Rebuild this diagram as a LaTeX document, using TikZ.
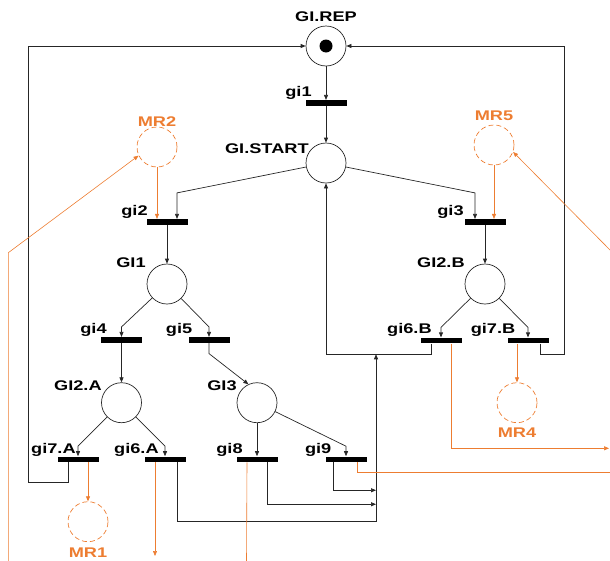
\documentclass[tikz,border=0pt]{standalone}
\usepackage{fontspec}
\setmainfont{Liberation Sans}[FakeStretch=1.3]
\usetikzlibrary{positioning,calc,arrows.meta}
\definecolor{mrorange}{RGB}{237,125,49}

\begin{document}
\begin{tikzpicture}[x=1pt,y=-1pt,>={Triangle[length=5pt,width=4pt]},line width=0.7pt]
\tikzset{
  place/.style={circle, draw=black!85, minimum size=40pt, inner sep=0pt},
  mrplace/.style={circle, draw=mrorange, dash pattern=on 5pt off 3pt, minimum size=40pt, inner sep=0pt},
  bar/.style={rectangle, fill=black, minimum width=41pt, minimum height=5.5pt, inner sep=0pt},
  lbl/.style={font=\bfseries\fontsize{14}{16}\selectfont, inner sep=0pt, anchor=base east},
  mrlbl/.style={lbl, text=mrorange, anchor=base},
  arc/.style={->, draw=black!85},
  oarc/.style={->, draw=mrorange, line width=0.6pt}
}
\useasboundingbox (0,0) rectangle (610,560);

% Places
\node[place] (rep) at (326,46) {};
\fill (rep) circle (6.5pt);
\node[place] (start) at (326,163) {};
\node[place] (g1) at (167,284) {};
\node[place] (g2b) at (485,284) {};
\node[place] (g2a) at (121.5,402.7) {};
\node[place] (g3) at (257,402.7) {};
\node[mrplace] (mr2) at (157,147) {};
\node[mrplace] (mr5) at (494,145) {};
\node[mrplace] (mr4) at (517,402.7) {};
\node[mrplace] (mr1) at (88,521.7) {};

% Transitions
\node[bar] (gi1) at (326,103) {};
\node[bar] (gi2) at (167,222) {};
\node[bar] (gi3) at (485,222) {};
\node[bar] (gi4) at (121.5,340) {};
\node[bar] (gi5) at (209,340) {};
\node[bar] (gi6b) at (441,340.5) {};
\node[bar] (gi7b) at (528,340.5) {};
\node[bar] (gi7a) at (78,459.3) {};
\node[bar] (gi6a) at (165,459.3) {};
\node[bar] (gi8) at (257,459.3) {};
\node[bar] (gi9) at (346,459.3) {};

% Labels
\node[lbl, anchor=base] (rep-l) at (326,21.7) {GI.REP};
\node[lbl] (start-l) at (309,153) {GI.START};
\node[lbl] (g1-l) at (146,267) {GI1};
\node[lbl] (g2b-l) at (465,267) {GI2.B};
\node[lbl] (g2a-l) at (102,390.5) {GI2.A};
\node[lbl] (g3-l) at (237,390.5) {GI3};
\node[lbl] (gi1-l) at (312,96.5) {gi1};
\node[lbl] (gi2-l) at (148,215.5) {gi2};
\node[lbl] (gi3-l) at (464,215.5) {gi3};
\node[lbl] (gi4-l) at (107,333.5) {gi4};
\node[lbl] (gi5-l) at (192.6,333.5) {gi5};
\node[lbl] (gi6b-l) at (432,333.5) {gi6.B};
\node[lbl] (gi7b-l) at (515.6,333.5) {gi7.B};
\node[lbl] (gi7a-l) at (76,453) {gi7.A};
\node[lbl] (gi6a-l) at (159,453) {gi6.A};
\node[lbl] (gi8-l) at (243,453) {gi8};
\node[lbl] (gi9-l) at (331.7,453) {gi9};
\node[mrlbl] (mr2-l) at (157,126.5) {MR2};
\node[mrlbl] (mr5-l) at (494,120) {MR5};
\node[mrlbl] (mr4-l) at (517,437) {MR4};
\node[mrlbl] (mr1-l) at (88,557.5) {MR1};

% Free ends
\coordinate (join) at (376,354.25);
\coordinate (out6a) at (155,556);
\coordinate (out8) at (246.5,562);
\coordinate (out6b) at (609,448.3);
\coordinate (out9) at (612,472.5);
\coordinate (in2) at (8.3,562);
\coordinate (in5) at (612,252);

% Arcs
\draw[arc] (rep) -- (gi1.north);
\draw[arc] (gi1) -- (start);
\draw[arc] (start) -- ([xshift=10pt,yshift=26pt]gi2.north) -- ([xshift=10pt]gi2.north);
\draw[arc] (start) -- ([xshift=-10pt,yshift=26pt]gi3.north) -- ([xshift=-10pt]gi3.north);
\draw[arc] (gi2) -- (g1);
\draw[arc] (gi3) -- (g2b);
\draw[arc] (g1) -- ([yshift=10pt]gi4.north) -- (gi4.north);
\draw[arc] (g1) -- ([yshift=10pt]gi5.north) -- (gi5.north);
\draw[arc] (g2b) -- ([yshift=10pt]gi6b.north) -- (gi6b.north);
\draw[arc] (g2b) -- ([yshift=10pt]gi7b.north) -- (gi7b.north);
\draw[arc] (gi4) -- (g2a);
\draw[arc] (gi5.south) -- ++(0,10.5) -- (g3.115);
\draw[arc] (g2a) -- ([yshift=10pt]gi7a.north) -- (gi7a.north);
\draw[arc] (g2a) -- ([yshift=10pt]gi6a.north) -- (gi6a.north);
\draw[arc] (g3) -- (gi8);
\draw[arc] (g3) -- ([yshift=10pt]gi9.north) -- (gi9.north);

% Loops back
\draw[arc] ([xshift=-10pt]gi7a.south) -- ++(0,19.5) -- ++(-39.6,0) |- (rep.west);
\draw[arc] ([xshift=12pt]gi7b.south) -- ++(0,11) -- ++(24,0) |- (rep.east);
\draw[arc] ([xshift=-10pt]gi6b.south) |- (join) -| (start.south);
\draw[arc] ([xshift=12pt]gi6a.south) |- ([yshift=-167.5pt]join) -- (join);
\draw[arc] ([xshift=10pt]gi8.south) |- ([yshift=-150pt]join);
\draw[arc] ([xshift=-12.5pt]gi9.south) |- ([yshift=-136pt]join);

% Resources
\draw[oarc] (mr2) -- ([xshift=-10pt]gi2.north);
\draw[oarc] (mr5) -- ([xshift=9pt]gi3.north);
\draw[oarc] ([xshift=10pt]gi7a.south) -- (mr1);
\draw[oarc] ([xshift=-11pt]gi7b.south) -- (mr4);
\draw[oarc] ([xshift=-10pt]gi6a.south) -- (out6a);
\draw[oarc, -] ([xshift=-10pt]gi8.south) -- (out8);
\draw[oarc] ([xshift=10pt]gi6b.south) |- (out6b);
\draw[oarc, -] ([xshift=11.5pt]gi9.south) |- (out9);
\draw[oarc] (in2) -- ++(0,-309.3) -- (mr2.205);
\draw[oarc] (in5) -- (mr5.340);
\end{tikzpicture}
\end{document}
